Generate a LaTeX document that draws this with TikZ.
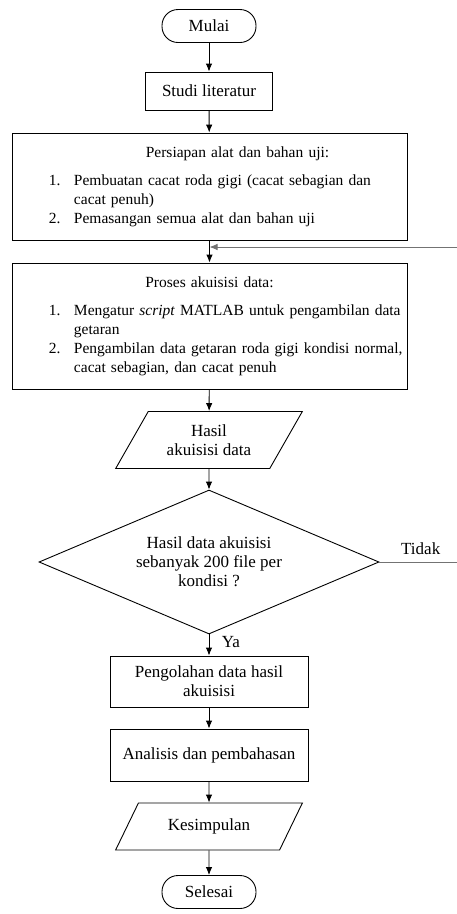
\documentclass[tikz,border=0pt]{standalone}
\usepackage{fontspec}
\setmainfont{Liberation Serif}
\usetikzlibrary{shapes.geometric,arrows.meta}

\newcommand{\butir}[2]{\par\noindent\hangindent=62pt\hangafter=1\hspace*{37pt}\makebox[25pt][l]{#1}#2}

\tikzset{
  ujung/.style={draw, rectangle, rounded corners=16pt, minimum width=94, minimum height=33},
  kotak/.style={draw, rectangle, align=center},
  blok/.style={draw, rectangle, inner sep=0pt, text width=395, minimum height=#1,
    font=\fontsize{15.5pt}{19pt}\selectfont},
  jajar/.style={draw, trapezium, trapezium left angle=57, trapezium right angle=123,
    trapezium stretches=true, minimum width=187, minimum height=#1, align=center},
  belah/.style={draw, diamond, aspect=2.36, minimum width=340, minimum height=144,
    inner sep=0pt, align=center},
  balik/.style={draw=black!55, line width=0.8pt}
}

\begin{document}
\begin{tikzpicture}[x=1pt, y=1pt, >={Latex[length=8pt,width=6.5pt]}, line width=0.9pt,
  font=\fontsize{17pt}{19pt}\selectfont]
\useasboundingbox (0,0) rectangle (456,-914);

\node[ujung] (mulai) at (209,-26) {Mulai};
\node[kotak, minimum width=127, minimum height=38] (studi) at (209,-91) {Studi literatur};
\node[blok=107] (persiapan) at (209.5,-186.5) {\raggedright
  {\centering\hspace*{56pt}Persiapan alat dan bahan uji:\par}\vspace{9pt}
  \butir{1.}{Pembuatan cacat roda gigi (cacat sebagian dan\newline cacat penuh)}
  \butir{2.}{Pemasangan semua alat dan bahan uji}\par};
\node[blok=126] (proses) at (209.5,-326) {\raggedright
  {\centering Proses akuisisi data:\par}\vspace{9pt}
  \butir{1.}{Mengatur \textit{script} MATLAB untuk pengambilan data\newline getaran}
  \butir{2.}{Pengambilan data getaran roda gigi kondisi normal,\newline cacat sebagian, dan cacat penuh}\par};
\node[jajar=57] (hasil) at (209,-440) {Hasil\\akuisisi data};
\node[belah] (cek) at (209,-562) {Hasil data akuisisi\\sebanyak 200 file per\\kondisi ?};
\node[kotak, minimum width=198, minimum height=51] (olah) at (209,-681.5) {Pengolahan data hasil\\akuisisi};
\node[kotak, minimum width=198, minimum height=52] (analisis) at (209,-755) {Analisis dan pembahasan};
\node[jajar=47] (simpul) at (209,-826.5) {Kesimpulan};
\node[ujung] (selesai) at (209,-892) {Selesai};

\coordinate (sisi) at (462,-562);
\coordinate (gabung) at (209.5,-247);

\draw[->] (mulai) -- (studi);
\draw[->] (studi) -- (persiapan);
\draw[->] (persiapan) -- (proses);
\draw[->] (proses) -- (hasil);
\draw[->] (hasil) -- (cek);
\draw[->] (cek) -- node[right=9pt, pos=0.35] {Ya} (olah);
\draw[->] (olah) -- (analisis);
\draw[->] (analisis) -- (simpul);
\draw[->] (simpul) -- (selesai);
\draw[balik, ->] (cek.east) -- node[above=4pt, text=black] {Tidak} (sisi) |- (gabung);
\end{tikzpicture}
\end{document}
